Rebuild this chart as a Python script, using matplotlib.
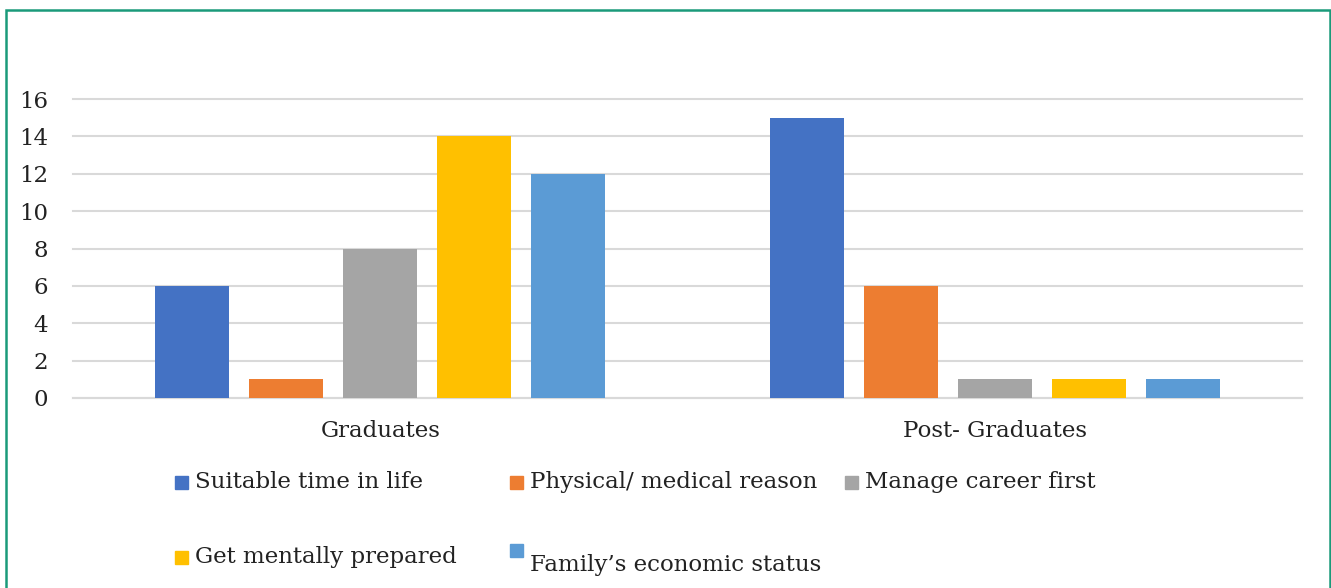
import matplotlib.pyplot as plt
import matplotlib.patches as mpatches
import numpy as np

groups = ['Graduates', 'Post- Graduates']
series = ['Suitable time in life', 'Physical/ medical reason', 'Manage career first',
          'Get mentally prepared', 'Family\u2019s economic status']
values = [
    [6, 15],
    [1, 6],
    [8, 1],
    [14, 1],
    [12, 1],
]
colors = ['#4472C4', '#ED7D31', '#A5A5A5', '#FFC000', '#5B9BD5']
yticks = [0, 2, 4, 6, 8, 10, 12, 14, 16]

plt.rcParams['font.family'] = ['DejaVu Serif']
fs = 16.5

fig = plt.figure(figsize=(13.31, 5.88), dpi=100)
ax = fig.add_axes([73/1331, 190/588, 1229/1331, 299/588])

x = np.arange(len(groups))
step = 0.153
width = 0.12
for i in range(len(series)):
    ax.bar(x + (i - 2) * step, values[i], width, color=colors[i], zorder=3)

ax.set_xlim(-0.5, 1.5)
ax.set_ylim(0, 16)
ax.set_yticks(yticks)
ax.set_yticklabels([str(t) for t in yticks], fontsize=fs, color='#222222')
ax.set_xticks(x)
ax.set_xticklabels(groups, fontsize=fs, color='#222222')
ax.tick_params(axis='both', length=0)
ax.tick_params(axis='y', pad=18)
ax.tick_params(axis='x', pad=16)
ax.grid(axis='y', color='#d9d9d9', linewidth=1.5, zorder=0)
for gl in ax.get_ygridlines():
    gl.set_clip_on(False)
for s in ['top', 'right', 'left']:
    ax.spines[s].set_visible(False)
ax.spines['bottom'].set_color('#d9d9d9')
ax.spines['bottom'].set_linewidth(1.5)

# legend drawn by hand, three columns (marker y, text y)
legend_pos = [(175, 482, 482), (510, 482, 482), (845, 482, 482),
              (175, 557, 557), (510, 550, 565)]
for i in range(len(series)):
    px, my, ty = legend_pos[i]
    fx = px / 1331
    fig.patches.append(mpatches.Rectangle((fx, 1 - my/588 - 6.5/588), 13/1331, 13/588,
                                          transform=fig.transFigure, color=colors[i]))
    fig.text(fx + 20/1331, 1 - ty/588, series[i], fontsize=fs, color='#222222', va='center')

# green outer frame
frame = mpatches.Rectangle((6/1331, -0.05), 1324/1331, 1.05 - 10/588, transform=fig.transFigure,
                           fill=False, edgecolor='#1a9a7a', linewidth=1.8)
fig.patches.append(frame)

fig.savefig('out.png', dpi=100)
